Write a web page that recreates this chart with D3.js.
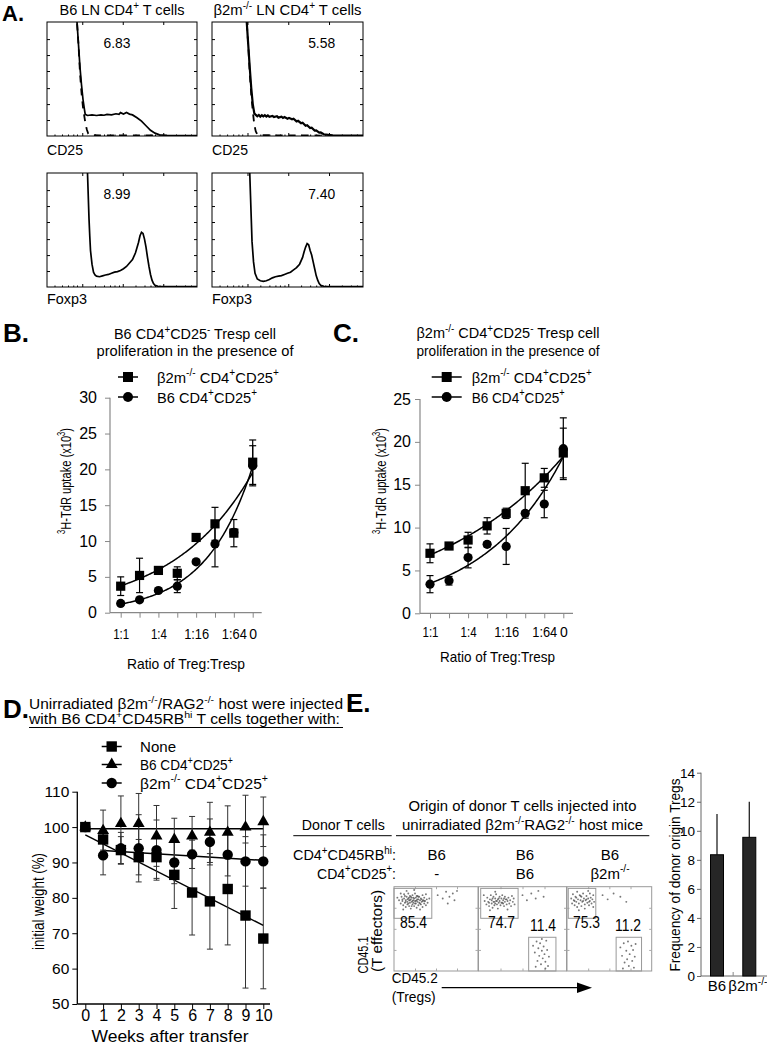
<!DOCTYPE html>
<html><head><meta charset="utf-8">
<script src="https://cdn.jsdelivr.net/npm/d3@7"></script>
<style>body{margin:0;background:#fff} text{font-family:Arial,"Liberation Sans",sans-serif;fill:#000}</style>
</head><body><svg id="fig" width="767" height="1050"></svg>
<script>
// ---------------- DATA ----------------
// Panel A histograms: [channel %, count % of box height]
const cd25B6 = [[19.5,110],[20,100],[21,80],[22,60],[23,45],[24,32],[25,23],[25.5,19],[27,18],[30,18.5],[33,18],[36,18.6],[38,18.2],[40,19],[43,18.6],[46,19.5],[48,19],[49,20.5],[51,19.2],[53,20.6],[55,19.2],[57,18.5],[60,16],[63,13],[66,9],[69,5],[72,2.5],[75,1],[80,0.5],[90,0.3],[100,0.3]];
const cd25B6Iso = [[19.5,110],[20,100],[21,80],[22,55],[23,38],[24,25],[25.5,12],[26.5,6],[27.5,2],[29,0.8],[35,0.6],[50,0.6],[65,0.6],[72,0.4]];
const cd25KO = [[22.5,110],[23,100],[24,80],[25,60],[26,42],[27,28],[28,20],[29,18.5],[30,17.3],[31,18.4],[32,17],[33,18.2],[34,17.2],[35,18.3],[36,17.1],[37,18],[38,16.9],[40,17.6],[41,16.7],[43,17.4],[44,16.1],[46,16.9],[47,15.9],[48,16.6],[50,15.2],[51,15.9],[53,14.6],[54,15.1],[56,12.8],[57,13.3],[59,11.2],[60,11.6],[62,9],[63,9.4],[65,7],[66,7.3],[68,4.8],[69,5],[71,2.9],[72,3.1],[74,1.5],[77,1],[80,0.5],[90,0.3],[100,0.3]];
const cd25KOIso = [[22.5,110],[23,100],[24,80],[25,55],[26,36],[27,22],[28,10],[29,4],[30,1.5],[32,0.7],[45,0.6],[60,0.6],[72,0.4]];
const foxp3B6 = [[26.5,110],[27,100],[27.5,80],[28,60],[28.5,45],[29,32],[30,20],[31,13],[32,10.5],[33,9.5],[35,9],[37,9.8],[39,10.5],[41,11],[43,12],[45,13],[47,13.5],[49,14.5],[51,16],[53,18],[55,21],[57,24],[59,30],[61,39],[62,45],[63,48],[64,47],[65,42],[66,35],[67,26],[68,18],[69,11],[70,6],[71,3],[72,1.5],[74,0.6],[76,0.3],[85,0.3],[100,0.3]];
const foxp3KO = [[24.5,110],[25,100],[25.5,80],[26,60],[26.5,40],[27.5,22],[28.5,12],[30,7],[32,5.5],[34,5],[36,5.5],[38,6.5],[40,8],[42,9],[44,9.5],[46,10],[48,11],[50,12],[52,13],[54,15],[56,17],[58,20],[60,26],[61,31],[62,35],[63,38],[64,37],[65,32],[66,28],[67,22],[68,16],[69,10],[70,6],[71,3],[72,1.5],[74,0.6],[76,0.3],[100,0.3]];
const histPercents = ["6.83","5.58","8.99","7.40"];
const histTitles = ["B6 LN CD4^{+} T cells","β2m^{-/-} LN CD4^{+} T cells"];
const histMarkers = ["CD25","CD25","Foxp3","Foxp3"];

// Panels B & C: Treg:Tresp ratio
const ratioCats = ["1:1","1:2","1:4","1:8","1:16","1:32","1:64","0"];
const ratioShown = ["1:1","1:4","1:16","1:64","0"];
const bKOTreg    = [3.7,5.2,5.9,5.5,10.5,12.4,11.1,21.0];
const bKOTregErr = [1.3,2.4,0.3,0.9,0.3,2.3,1.9,3.1];
const bB6Treg    = [1.3,1.8,3.1,3.7,7.1,9.6,11.2,20.5];
const bB6TregErr = [0.3,0.3,0.3,0.9,0.3,3.2,0.5,2.8];
const bFitKO = [3.75,0.236];   // a*exp(b*i)
const bFitB6 = [1.2,0.405];
const cKOTreg    = [7.0,7.85,8.55,10.2,11.66,14.3,15.8,18.7];
const cKOTregErr = [1.1,0.4,0.9,0.95,0.6,3.2,1.1,2.9];
const cB6Treg    = [3.4,3.8,6.5,8.05,7.8,11.66,12.75,19.2];
const cB6TregErr = [1.0,0.5,1.2,0.3,2.1,0.3,1.6,3.6];
const cFitKO = [6.8,0.1415];
const cFitB6 = [3.5,0.236];
const bTicksY = [0,5,10,15,20,25,30];
const cTicksY = [0,5,10,15,20,25];

// Panel D: weight
const weeks = [0,1,2,3,4,5,6,7,8,9,10];
const dNone    = [100,96.5,93.5,91.5,91.5,86.5,81.5,79,82.5,75,68.5];
const dNoneErr = [0,3,3.8,5,6,9.5,12,13.5,15.8,20.5,14.2];
const dB6      = [100,99,101,101,97.5,96.5,97.5,98.5,98.5,100,101.5];
const dB6Err   = [0,5.8,7.8,8.5,8.6,6,5.5,8.5,7.5,9,7];
const dKO      = [100,92,94,94,93.5,90,92.3,95.8,92.2,90.3,90.3];
const dKOErr   = [0,5.5,4.5,9.5,8.5,6,4,6.5,6,7,7.5];
const dFitNone = [[0,97.8],[10,72.2]];
const dFitB6   = [[0,99.5],[10,99.5]];
const dFitKO   = [[1,93.4],[10,90.6]];
const dTicksY = [50,60,70,80,90,100,110];

// Panel E: flow plots (x %, y %) and bar chart
const flowCol1 = ["B6","B6","B6"];
const flowCol2 = ["-","B6","β2m^{-/-}"];
const flowUL = ["85.4","74.7","75.3"];
const flowLR = [null,"11.4","11.2"];
const flowGatesUL = [[0,45,62.5,98],[2.5,45,62.5,98],[1.5,34,62.5,98]];
const flowGatesLR = [null,[57,88,0,40],[58,88,0,40]];
const flowDots = [
 "6,84 8,80 9,88 10,83 11,78 12,86 12,91 13,81 14,84 14,76 15,88 16,82 16,79 17,86 17,92 18,84 18,77 19,81 19,89 20,85 20,74 21,82 21,87 22,79 22,90 23,84 23,81 24,86 24,77 25,83 25,92 26,80 26,87 27,84 27,75 28,82 28,89 29,78 29,85 30,81 30,88 31,84 32,79 32,86 33,82 34,90 34,76 35,84 36,80 36,87 37,83 38,78 39,85 40,81 8,92 11,73 15,95 24,96 31,73 38,91 4,87 42,86 13,89 19,84 23,87 26,83 29,88 33,85 17,80 21,77 10,85 36,83 14,82 18,87 22,83 25,80 28,85 31,80 34,83 20,88 16,85 27,89 52,90 58,86 62,94 66,88 70,92 72,84 75,95 64,80",
 "7,83 9,79 10,87 11,82 12,77 13,85 14,90 15,80 15,84 16,75 17,88 18,82 18,78 19,86 20,91 20,83 21,79 22,85 22,74 23,81 24,88 24,83 25,78 26,86 27,81 27,90 28,84 29,77 30,82 30,88 31,85 32,79 33,83 34,87 35,80 36,84 37,77 38,89 39,82 40,86 6,90 13,72 19,94 33,73 41,79 16,86 21,83 26,81 29,86 12,81 17,82 23,86 28,80 32,85 19,80 50,90 55,84 60,92 65,86 68,95 74,88 62,30 64,22 66,35 67,12 68,27 69,18 70,33 71,8 72,24 73,15 74,29 75,20 76,11 77,36 78,25 79,6 80,17 65,5 72,38 76,3",
 "5,86 6,80 7,91 8,84 9,78 10,88 11,82 12,94 12,76 13,85 14,80 15,90 16,84 17,77 17,88 18,82 19,92 20,86 21,79 21,74 22,84 23,89 24,81 25,86 26,78 27,92 27,83 28,87 29,80 30,85 31,90 31,76 32,82 25,95 14,72 9,83 16,89 23,85 11,87 19,83 26,82 42,90 48,85 55,92 63,88 70,82 63,28 65,18 67,33 68,10 70,24 71,14 72,35 73,6 74,20 76,30 77,12 78,25 79,4 80,17 81,32 66,3"
];
const eBarLabels = ["B6","β2m^{-/-}"];
const eBarValues = [8.35,9.55];
const eBarErr    = [2.8,2.45];
const eTicksY = [0,2,4,6,8,10,12,14];

// ---------------- HELPERS ----------------
const svg = d3.select('#fig');
svg.append('rect').attr('width',767).attr('height',1050).attr('fill','#fff');
const FONT = 'Arial, "Liberation Sans", sans-serif';

function rich(sel, s, fs) {
  const parts = s.split(/(\^\{[^}]*\})/).filter(p => p.length);
  let up = false;
  parts.forEach(p => {
    if (p.startsWith('^{')) {
      sel.append('tspan').attr('font-size', fs*0.68).attr('dy', up ? 0 : -fs*0.42).text(p.slice(2,-1));
      up = true;
    } else {
      const t = sel.append('tspan').text(p);
      if (up) { t.attr('dy', fs*0.42); up = false; }
    }
  });
}
function txt(x, y, s, fs, o = {}) {
  const t = svg.append('text').attr('x', x).attr('y', y).attr('font-size', fs);
  if (o.anchor) t.attr('text-anchor', o.anchor);
  if (o.weight) t.attr('font-weight', o.weight);
  if (o.len) t.attr('textLength', o.len).attr('lengthAdjust', 'spacingAndGlyphs');
  if (o.rot) t.attr('transform', `rotate(-90,${x},${y})`);
  rich(t, s, fs);
  return t;
}
const parsePts = s => s.trim().split(/\s+/).map(p => p.split(',').map(Number));
function styleAxis(g, fs, color) {
  g.attr('font-family', FONT).attr('font-size', fs);
  g.selectAll('.tick line').attr('stroke', color);
  g.selectAll('.tick text').attr('fill', '#000');
  g.select('.domain').remove();
}

// ---------------- PANEL A ----------------
txt(2, 21, "A.", 22, {weight:'bold'});
txt(122, 15, histTitles[0], 15, {anchor:'middle', len:125});
txt(287.5, 15, histTitles[1], 15, {anchor:'middle', len:148});
const histBoxes = [{x0:47,x1:197,y0:22,y1:136},{x0:212,x1:363,y0:22,y1:136},{x0:47,x1:197,y0:173,y1:287},{x0:212,x1:363,y0:173,y1:287}];
const histSolid = [cd25B6, cd25KO, foxp3B6, foxp3KO];
const histIso = [cd25B6Iso, cd25KOIso, null, null];
const pctPosX = [46.7, 72.6, 46.7, 72.6];
histBoxes.forEach((b, i) => {
  const x = d3.scaleLinear().domain([0,100]).range([b.x0, b.x1]);
  const y = d3.scaleLinear().domain([0,100]).range([b.y1, b.y0]);
  const id = 'clipA' + i;
  svg.append('clipPath').attr('id', id).append('rect').attr('x', b.x0).attr('y', b.y0).attr('width', b.x1-b.x0).attr('height', b.y1-b.y0);
  const g = svg.append('g').attr('clip-path', `url(#${id})`);
  const line = d3.line().x(d => x(d[0])).y(d => y(d[1]));
  if (histIso[i]) g.append('path').attr('d', line(histIso[i])).attr('fill','none').attr('stroke','#000').attr('stroke-width',1.8).attr('stroke-dasharray','7,6');
  g.append('path').attr('d', line(histSolid[i])).attr('fill','none').attr('stroke','#000').attr('stroke-width', i===1 ? 2.2 : 1.7);
  svg.append('rect').attr('x', b.x0).attr('y', b.y0).attr('width', b.x1-b.x0).attr('height', b.y1-b.y0).attr('fill','none').attr('stroke','#000').attr('stroke-width',1);
  const major = [23.5,50.5,77.5];
  const minor = [5,10,14,17.5,20,32,38,42,45,48,59,65,69,72,75,86,92,96];
  const ax = (gen, tx, ty) => { const a = svg.append('g').attr('transform', `translate(${tx},${ty})`).call(gen); styleAxis(a, 1, '#000'); a.selectAll('.tick text').remove(); };
  ax(d3.axisTop(x).tickValues(major).tickSize(-3).tickSizeOuter(0), 0, b.y0);
  ax(d3.axisBottom(x).tickValues(major).tickSize(-3).tickSizeOuter(0), 0, b.y1);
  ax(d3.axisBottom(x).tickValues(minor).tickSize(-1.5).tickSizeOuter(0), 0, b.y1);
  ax(d3.axisLeft(y).tickValues([14,28,42,57,71,85]).tickSize(-3).tickSizeOuter(0), b.x0, 0);
  ax(d3.axisRight(y).tickValues([14,28,42,57,71,85]).tickSize(-3).tickSizeOuter(0), b.x1, 0);
  txt(x(pctPosX[i]), b.y0 + 26, histPercents[i], 15, {anchor:'middle', len:27});
  txt(b.x0, i < 2 ? b.y1 + 19 : b.y1 + 17, histMarkers[i], 15, {len: i < 2 ? 36 : 40});
});

// ---------------- PANELS B & C ----------------
function prolifPanel(o) {
  const x = d3.scaleLinear().domain([0,7]).range(o.xr);
  const y = d3.scaleLinear().domain([0, o.ymax]).range(o.yr);
  const axC = '#888';
  const ga = svg.append('g').attr('transform', `translate(0,${o.yr[0]})`)
    .call(d3.axisBottom(x).tickValues(d3.range(8)).tickFormat(i => ratioShown.includes(ratioCats[i]) ? ratioCats[i] : "").tickSize(5).tickPadding(o.xpad).tickSizeOuter(0));
  styleAxis(ga, 14, axC);
  ga.selectAll('.tick text').attr('textLength', function() { const s = d3.select(this).text(); return s === '0' ? null : (s.length === 3 ? 16 : 25); }).attr('lengthAdjust','spacingAndGlyphs');
  const gy = svg.append('g').attr('transform', `translate(${o.axisX},0)`)
    .call(d3.axisLeft(y).tickValues(o.ticks).tickSize(5).tickPadding(o.ypad).tickSizeOuter(0));
  styleAxis(gy, 16, axC);
  svg.append('line').attr('x1', o.axisX).attr('x2', o.axisX).attr('y1', y(0)).attr('y2', y(o.ymax)).attr('stroke', axC).attr('stroke-width', 1.2);
  svg.append('line').attr('x1', o.axisX).attr('x2', o.xEnd).attr('y1', y(0)).attr('y2', y(0)).attr('stroke', axC).attr('stroke-width', 1.2);
  const samp = d3.range(0, 7.0001, 0.05);
  [o.fitKO, o.fitB6].forEach(f => {
    svg.append('path').attr('d', d3.line().x(t => x(t)).y(t => y(f[0]*Math.exp(f[1]*t)))(samp)).attr('fill','none').attr('stroke','#000').attr('stroke-width',1.5);
  });
  const eb = (vals, errs) => vals.forEach((v, i) => {
    const e = errs[i]; if (!e) return;
    const cx = x(i);
    svg.append('line').attr('x1',cx).attr('x2',cx).attr('y1',y(v-e)).attr('y2',y(v+e)).attr('stroke','#000').attr('stroke-width',1.2);
    [v-e, v+e].forEach(w => svg.append('line').attr('x1',cx-3.5).attr('x2',cx+3.5).attr('y1',y(w)).attr('y2',y(w)).attr('stroke','#000').attr('stroke-width',1.2));
  });
  eb(o.b6, o.b6Err); eb(o.ko, o.koErr);
  o.b6.forEach((v, i) => svg.append('circle').attr('cx', x(i)).attr('cy', y(v)).attr('r', 4.6).attr('fill','#000'));
  o.ko.forEach((v, i) => svg.append('rect').attr('x', x(i)-4.6).attr('y', y(v)-4.6).attr('width', 9.2).attr('height', 9.2).attr('fill','#000'));
  [[o.legY[0],'sq',"β2m^{-/-} CD4^{+}CD25^{+}", o.legLen[0]],[o.legY[1],'ci',"B6 CD4^{+}CD25^{+}", o.legLen[1]]].forEach(([ly, m, lab, len]) => {
    svg.append('line').attr('x1', o.legX[0]).attr('x2', o.legX[1]).attr('y1', ly).attr('y2', ly).attr('stroke','#000').attr('stroke-width',1.5);
    const mx = (o.legX[0]+o.legX[1])/2;
    if (m === 'sq') svg.append('rect').attr('x', mx-5).attr('y', ly-5).attr('width',10).attr('height',10);
    else svg.append('circle').attr('cx', mx).attr('cy', ly).attr('r', 5);
    txt(o.legText, ly + 5.5, lab, 15, {len});
  });
  txt(o.titleX, o.titleY[0], o.title1, 15, {anchor:'middle', len:o.titleLen[0]});
  txt(o.titleX, o.titleY[1], "proliferation in the presence of", 15, {anchor:'middle', len:o.titleLen[1]});
  txt(o.xTitleX, o.xTitleY, "Ratio of Treg:Tresp", 15, {anchor:'middle', len:o.xTitleLen});
  txt(o.yTitleX, o.yTitleY, "^{3}H-TdR uptake (x10^{3})", 15, {anchor:'middle', rot:true, len:106});
}
txt(3, 341.5, "B.", 26, {weight:'bold'});
txt(333, 341.5, "C.", 26, {weight:'bold'});
prolifPanel({xr:[120.7,252.7], yr:[612.7,397.7], ymax:30, ticks:bTicksY, axisX:110, xEnd:261.7, xpad:11, ypad:8,
  ko:bKOTreg, koErr:bKOTregErr, b6:bB6Treg, b6Err:bB6TregErr, fitKO:bFitKO, fitB6:bFitB6,
  legX:[118,138], legY:[377,397], legText:157, legLen:[122,100],
  title1:"B6 CD4^{+}CD25^{-} Tresp cell", titleX:195, titleY:[339,356], titleLen:[162,197],
  xTitleX:186, xTitleY:669, xTitleLen:118, yTitleX:71, yTitleY:481});
prolifPanel({xr:[430,563.3], yr:[613.3,399], ymax:25, ticks:cTicksY, axisX:420, xEnd:573, xpad:8.5, ypad:4,
  ko:cKOTreg, koErr:cKOTregErr, b6:cB6Treg, b6Err:cB6TregErr, fitKO:cFitKO, fitB6:cFitB6,
  legX:[431.7,461.7], legY:[377,397], legText:471.7, legLen:[120,93],
  title1:"β2m^{-/-} CD4^{+}CD25^{-} Tresp cell", titleX:508, titleY:[338,356], titleLen:[183,183],
  xTitleX:497.5, xTitleY:662, xTitleLen:115, yTitleX:386, yTitleY:481});

// ---------------- PANEL D ----------------
txt(3, 718, "D.", 26, {weight:'bold'});
txt(29, 709, "Unirradiated β2m^{-/-}/RAG2^{-/-} host were injected", 14, {len:314});
txt(29, 723.5, "with B6 CD4^{+}CD45RB^{hi} T cells together with:", 14, {len:311});
svg.append('line').attr('x1',29).attr('x2',343).attr('y1',727.5).attr('y2',727.5).attr('stroke','#000').attr('stroke-width',1);
{
  const x = d3.scaleLinear().domain([0,10]).range([85.3,263.3]);
  const y = d3.scaleLinear().domain([50,110]).range([1004,791.7]);
  const gx = svg.append('g').attr('transform','translate(0,1004)').call(d3.axisBottom(x).tickValues(weeks).tickSize(5).tickPadding(1).tickSizeOuter(0));
  styleAxis(gx, 16, '#000');
  const gy = svg.append('g').attr('transform','translate(77.3,0)').call(d3.axisLeft(y).tickValues(dTicksY).tickSize(5).tickPadding(3).tickSizeOuter(0));
  styleAxis(gy, 15.5, '#000');
  svg.append('line').attr('x1',77.3).attr('x2',77.3).attr('y1',y(50)).attr('y2',y(110)).attr('stroke','#000').attr('stroke-width',1.3);
  svg.append('line').attr('x1',77.3).attr('x2',270).attr('y1',y(50)).attr('y2',y(50)).attr('stroke','#000').attr('stroke-width',1.3);
  const ln = d3.line().x(d => x(d[0])).y(d => y(d[1]));
  [dFitNone, dFitB6, dFitKO].forEach(f => svg.append('path').attr('d', ln(f)).attr('stroke','#000').attr('stroke-width',1.5).attr('fill','none'));
  const eb = (vals, errs) => vals.forEach((v, i) => {
    const e = errs[i]; if (!e) return;
    const cx = x(weeks[i]);
    svg.append('line').attr('x1',cx).attr('x2',cx).attr('y1',y(v-e)).attr('y2',y(v+e)).attr('stroke','#333').attr('stroke-width',1);
    [v-e, v+e].forEach(w => svg.append('line').attr('x1',cx-3).attr('x2',cx+3).attr('y1',y(w)).attr('y2',y(w)).attr('stroke','#333').attr('stroke-width',1));
  });
  eb(dNone, dNoneErr); eb(dB6, dB6Err); eb(dKO, dKOErr);
  const tri = d3.symbol().type(d3.symbolTriangle).size(62);
  dB6.forEach((v, i) => svg.append('path').attr('d', tri()).attr('transform', `translate(${x(weeks[i])},${y(v)})`));
  dKO.forEach((v, i) => svg.append('circle').attr('cx', x(weeks[i])).attr('cy', y(v)).attr('r', 5.2));
  dNone.forEach((v, i) => svg.append('rect').attr('x', x(weeks[i])-5.2).attr('y', y(v)-5.2).attr('width', 10.4).attr('height', 10.4));
  const legs = [[746.5,'sq',"None",36],[764.5,'tr',"B6 CD4^{+}CD25^{+}",93],[783,'ci',"β2m^{-/-} CD4^{+}CD25^{+}",128]];
  legs.forEach(([ly, m, lab, len]) => {
    svg.append('line').attr('x1',101.7).attr('x2',121.7).attr('y1',ly).attr('y2',ly).attr('stroke','#000').attr('stroke-width',1.5);
    const mx = 111.7;
    if (m === 'sq') svg.append('rect').attr('x', mx-5.2).attr('y', ly-5.2).attr('width',10.4).attr('height',10.4);
    else if (m === 'tr') svg.append('path').attr('d', tri()).attr('transform', `translate(${mx},${ly})`);
    else svg.append('circle').attr('cx', mx).attr('cy', ly).attr('r', 5.2);
    txt(140, ly + 5.5, lab, 15, {len});
  });
  txt(170, 1042, "Weeks after transfer", 16, {anchor:'middle', len:157});
  txt(44, 901.5, "initial weight (%)", 16, {anchor:'middle', rot:true, len:97});
}

// ---------------- PANEL E ----------------
txt(346, 712, "E.", 26, {weight:'bold'});
txt(522.5, 811, "Origin of donor T cells injected into", 15, {anchor:'middle', len:228});
txt(522.5, 830, "unirradiated β2m^{-/-}RAG2^{-/-} host mice", 15, {anchor:'middle', len:241});
txt(343.3, 830, "Donor T cells", 15, {anchor:'middle', len:83});
svg.append('line').attr('x1',293.3).attr('x2',391.7).attr('y1',835.7).attr('y2',835.7).attr('stroke','#000');
svg.append('line').attr('x1',396).attr('x2',649.3).attr('y1',835.7).attr('y2',835.7).attr('stroke','#000');
txt(396, 860, "CD4^{+}CD45RB^{hi}:", 15, {anchor:'end', len:103});
txt(396, 878.5, "CD4^{+}CD25^{+}:", 15, {anchor:'end', len:79});
const flowBoxes = [[394,478],[478.5,566.5],[567,651.7]];
const colCenters = [436.7,525,610];
const ulTextX = [400,488,573];
const lrTextX = [null,530,615];
flowBoxes.forEach(([L, R], k) => {
  const x = d3.scaleLinear().domain([0,100]).range([L, R]);
  const y = d3.scaleLinear().domain([0,100]).range([971, 886.7]);
  txt(colCenters[k], 860, flowCol1[k], 15, {anchor:'middle'});
  txt(colCenters[k], 878.5, flowCol2[k], 15, {anchor:'middle'});
  svg.append('rect').attr('x', L).attr('y', y(100)).attr('width', R-L).attr('height', y(0)-y(100)).attr('fill','none').attr('stroke','#999').attr('stroke-width',1);
  const ax = (gen, tx, ty) => { const a = svg.append('g').attr('transform', `translate(${tx},${ty})`).call(gen); styleAxis(a, 1, '#aaa'); a.selectAll('.tick text').remove(); };
  ax(d3.axisTop(x).tickValues([25,50,75]).tickSize(-2.5).tickSizeOuter(0), 0, y(100));
  ax(d3.axisBottom(x).tickValues([25,50,75]).tickSize(-2.5).tickSizeOuter(0), 0, y(0));
  ax(d3.axisLeft(y).tickValues([25,50,75]).tickSize(-2.5).tickSizeOuter(0), L, 0);
  ax(d3.axisRight(y).tickValues([25,50,75]).tickSize(-2.5).tickSizeOuter(0), R, 0);
  parsePts(flowDots[k]).forEach(([px, py]) => svg.append('circle').attr('cx', x(px)).attr('cy', y(py)).attr('r', 0.95).attr('fill','#555').attr('opacity',0.8));
  const gu = flowGatesUL[k];
  svg.append('rect').attr('x', x(gu[0])).attr('y', y(gu[3])).attr('width', x(gu[1])-x(gu[0])).attr('height', y(gu[2])-y(gu[3])).attr('fill','none').attr('stroke','#999');
  const gl = flowGatesLR[k];
  if (gl) svg.append('rect').attr('x', x(gl[0])).attr('y', y(gl[3])).attr('width', x(gl[1])-x(gl[0])).attr('height', y(gl[2])-y(gl[3])).attr('fill','none').attr('stroke','#999');
  txt(ulTextX[k], 928, flowUL[k], 16, {len:27});
  if (flowLR[k]) txt(lrTextX[k], 930.5, flowLR[k], 16, {len:26});
});
txt(368, 955, "CD45.1", 15, {anchor:'middle', rot:true, len:37});
txt(382, 931, "(T effectors)", 15, {anchor:'middle', rot:true, len:82});
txt(391.7, 983, "CD45.2", 15, {len:46});
txt(391.7, 1001.5, "(Tregs)", 15, {len:44});
svg.append('line').attr('x1',441.7).attr('x2',580).attr('y1',987.7).attr('y2',987.7).attr('stroke','#000').attr('stroke-width',1.3);
svg.append('path').attr('d','M577,982.5 L592,987.7 L577,992.9 Z').attr('fill','#000');

// bar chart
{
  const x = d3.scalePoint().domain(eBarLabels).range([717,749.3]);
  const y = d3.scaleLinear().domain([0,14]).range([976,772.7]);
  const gy = svg.append('g').attr('transform','translate(701,0)').call(d3.axisLeft(y).tickValues(eTicksY).tickSize(4).tickPadding(2).tickSizeOuter(0));
  styleAxis(gy, 13.5, '#666');
  svg.append('line').attr('x1',701).attr('x2',701).attr('y1',y(0)).attr('y2',y(14)).attr('stroke','#666');
  svg.append('line').attr('x1',701).attr('x2',767).attr('y1',y(0)).attr('y2',y(0)).attr('stroke','#666');
  const mid = (x(eBarLabels[0]) + x(eBarLabels[1]))/2;
  svg.append('line').attr('x1',mid).attr('x2',mid).attr('y1',y(0)).attr('y2',y(0)-4).attr('stroke','#888');
  eBarLabels.forEach((c, i) => {
    const cx = x(c);
    svg.append('line').attr('x1',cx).attr('x2',cx).attr('y1',y(eBarValues[i])).attr('y2',y(eBarValues[i]+eBarErr[i])).attr('stroke','#222').attr('stroke-width',1.3);
    svg.append('rect').attr('x', cx-6.5).attr('y', y(eBarValues[i])).attr('width', 13).attr('height', y(0)-y(eBarValues[i])).attr('fill','#262626').attr('stroke','#000');
  });
  txt(x(eBarLabels[0]), 991, eBarLabels[0], 15, {anchor:'middle'});
  txt(728.3, 991, eBarLabels[1], 15);
  txt(680, 875, "Frequency of donor origin Tregs", 15, {anchor:'middle', rot:true, len:193});
}
</script></body></html>
